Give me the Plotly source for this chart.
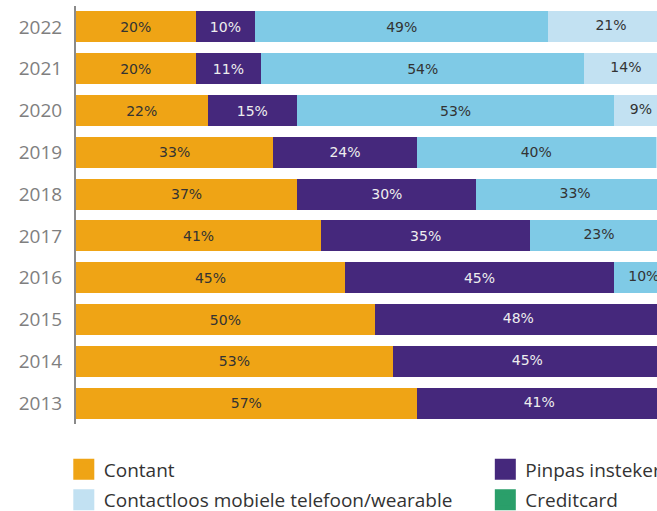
import plotly.graph_objects as go

# ==========================
# DATA
# ==========================
years = ['2013', '2014', '2015', '2016', '2017', '2018', '2019', '2020', '2021', '2022']
contant = [57, 53, 50, 45, 41, 37, 33, 22, 20, 20]
pinpas = [41, 45, 48, 45, 35, 30, 24, 15, 11, 10]
contactloos = [1, 1, 2, 10, 23, 33, 40, 53, 54, 49]
mobiel = [0, 0, 0, 0, 0, 0, 1, 9, 14, 21]
creditcard = [1, 1, 0, 0, 1, 0, 1, 1, 1, 0]

# name, values, bar colour, label colour, legend slot
series = [
    ('Contant', contant, '#EFA415', '#333333', 'legend'),
    ('Pinpas insteker', pinpas, '#45287C', '#EEEEEE', 'legend2'),
    ('Contactloos pinpas', contactloos, '#7FCAE6', '#333333', None),
    ('Contactloos mobiele telefoon/wearable', mobiel, '#C2E1F2', '#333333', 'legend3'),
    ('Creditcard', creditcard, '#2A9F6A', '#333333', 'legend4'),
]

x_max = 97.2  # visible part of the 0-100% axis (chart is cut off on the right)
label_font = 'DejaVu Sans'

fig = go.Figure()

# ==========================
# STACKED BARS
# ==========================
# plotly drops bar text when the bar runs past the range, so those labels
# are collected and drawn by a text trace instead
ext_x, ext_y, ext_t, ext_c, ext_pos = [], [], [], [], []
starts = [0] * len(years)
for name, vals, color, txt_color, _ in series:
    bar_text = []
    for i, v in enumerate(vals):
        start = starts[i]
        end = start + v
        if v < 2:
            bar_text.append('')
        elif end <= x_max:
            bar_text.append(f'{v}%')
        else:
            bar_text.append('')
            total = sum(s[1][i] for s in series)
            if start + v / 2 < x_max - 2:
                ext_x.append(start + v / 2)
                ext_pos.append('middle center')
            else:
                ext_x.append(total - 0.8)
                ext_pos.append('middle left')
            ext_y.append(years[i])
            ext_t.append(f'{v}%')
            ext_c.append(txt_color)
        starts[i] = end

    fig.add_trace(go.Bar(
        y=years, x=vals, orientation='h', name=name,
        marker=dict(color=color, line=dict(width=0)),
        text=bar_text,
        textposition='inside', insidetextanchor='middle',
        constraintext='none', cliponaxis=False,
        textfont=dict(family=label_font, size=14, color=txt_color),
        showlegend=False, hoverinfo='skip'
    ))

fig.add_trace(go.Scatter(
    x=ext_x, y=ext_y, mode='text', text=ext_t,
    textposition=ext_pos, cliponaxis=False,
    textfont=dict(family=label_font, size=14, color=ext_c),
    showlegend=False, hoverinfo='skip'
))

# ==========================
# LEGEND ENTRIES
# ==========================
for name, vals, color, txt_color, leg in series:
    if leg is None:
        continue
    fig.add_trace(go.Scatter(
        x=[None], y=[None], mode='markers', name=name, legend=leg,
        marker=dict(symbol='square', size=21, color=color,
                    line=dict(width=5, color=color))
    ))

fig.update_xaxes(visible=False, range=[0, x_max])

fig.update_yaxes(
    type='category', showline=True, linecolor='#8a8a8a', linewidth=2,
    showgrid=False, zeroline=False, ticks='', ticklabelstandoff=8,
    tickfont=dict(family='Open Sans', size=19, color='#7f7f7f')
)

legend_style = dict(
    orientation='v', xanchor='left', yanchor='top', traceorder='normal',
    itemsizing='trace', bgcolor='rgba(0,0,0,0)',
    font=dict(family='Open Sans', size=19, color='#333333')
)

fig.update_layout(
    width=657, height=511,
    barmode='stack', bargap=0.26,
    margin=dict(l=76, r=0, t=6, b=87, autoexpand=False),
    plot_bgcolor='white',
    paper_bgcolor='white',
    legend=dict(legend_style, x=-0.021, y=-0.0633),
    legend2=dict(legend_style, x=0.7045, y=-0.0633),
    legend3=dict(legend_style, x=-0.021, y=-0.1363),
    legend4=dict(legend_style, x=0.7045, y=-0.1363),
)

# page body margin off so the 657x511 figure fills the window
fig.write_html("out.html", config={'displayModeBar': False},
               post_script="document.body.style.margin = '0';")
